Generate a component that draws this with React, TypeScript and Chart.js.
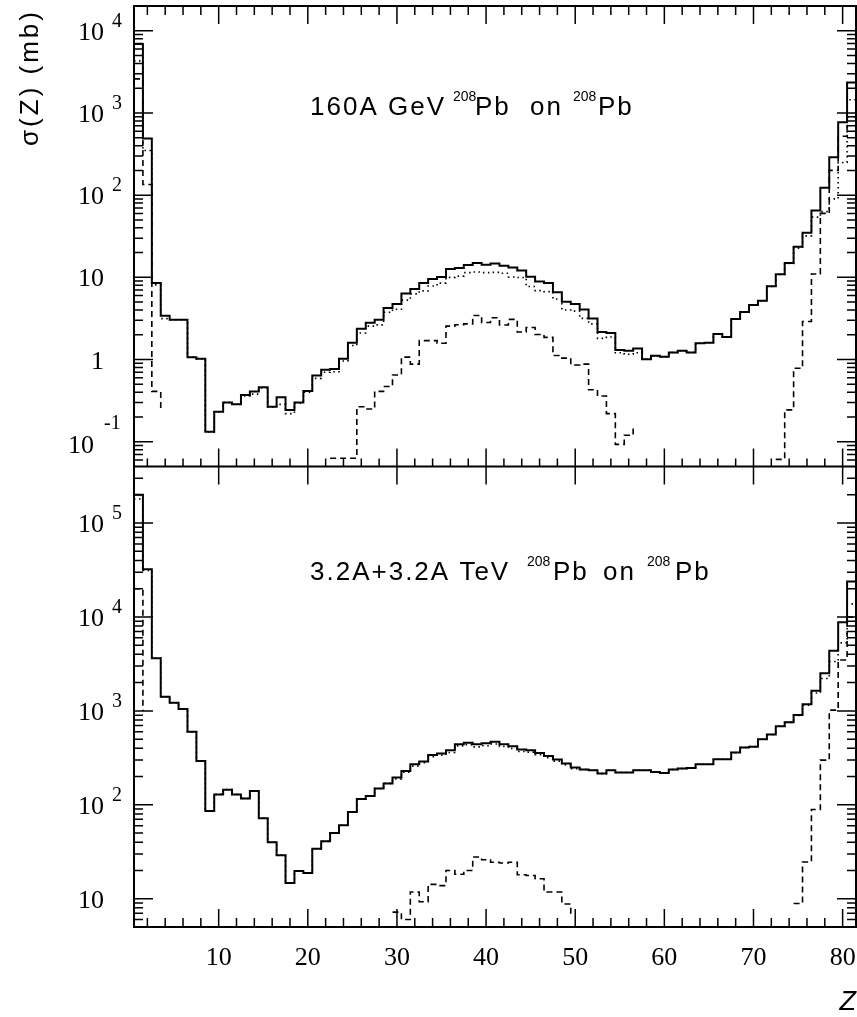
import React, { useEffect, useRef } from "react";
import { Chart, registerables } from "chart.js";

Chart.register(...registerables);

// ---------------- data ----------------
const Z_BINS = [
  1, 2, 3, 4, 5, 6, 7, 8, 9, 10, 11, 12, 13, 14, 15, 16, 17, 18, 19, 20,
  21, 22, 23, 24, 25, 26, 27, 28, 29, 30, 31, 32, 33, 34, 35, 36, 37, 38, 39, 40,
  41, 42, 43, 44, 45, 46, 47, 48, 49, 50, 51, 52, 53, 54, 55, 56, 57, 58, 59, 60,
  61, 62, 63, 64, 65, 66, 67, 68, 69, 70, 71, 72, 73, 74, 75, 76, 77, 78, 79, 80, 81,
];

// 160A GeV Pb on Pb  (0 = below the plotted range)
const TOP_TOTAL = [
  6900, 490, 8.55, 3.4, 3.05, 3.05, 1.07, 1.02, 0.132, 0.232,
  0.30, 0.286, 0.37, 0.41, 0.46, 0.267, 0.347, 0.244, 0.30, 0.415,
  0.64, 0.75, 0.77, 1.02, 1.6, 2.37, 2.8, 3.05, 4.23, 4.74,
  6.35, 7.2, 8.55, 9.55, 10.1, 12.6, 13.0, 14.1, 15.0, 14.2,
  14.7, 13.8, 13.2, 12.1, 10.2, 8.9, 8.55, 6.6, 5.05, 4.74,
  4.05, 3.15, 2.17, 2.1, 1.31, 1.28, 1.36, 1.01, 1.11, 1.08,
  1.22, 1.28, 1.22, 1.58, 1.6, 2.04, 1.88, 3.11, 3.78, 4.6,
  5.2, 7.77, 10.9, 15.0, 23.5, 35, 65, 123, 290, 770, 2350,
];
const TOP_EMD = [
  4300, 350, 8.1, 3.15, 3.05, 3.05, 1.07, 1.02, 0.132, 0.232,
  0.30, 0.286, 0.36, 0.38, 0.45, 0.265, 0.285, 0.22, 0.295, 0.40,
  0.59, 0.70, 0.71, 0.96, 1.48, 2.1, 2.55, 2.64, 3.76, 4.09,
  5.28, 6.3, 6.85, 7.85, 8.5, 10.0, 10.35, 11.4, 11.6, 11.4,
  11.5, 11.2, 10.1, 9.95, 7.75, 6.9, 6.7, 5.45, 4.0, 3.88,
  3.17, 2.72, 1.81, 1.88, 1.21, 1.16, 1.21, 1.01, 1.11, 1.08,
  1.22, 1.28, 1.22, 1.58, 1.6, 2.04, 1.88, 3.11, 3.78, 4.6,
  5.2, 7.77, 10.84, 14.76, 22.7, 32, 54, 63, 90, 250, 1450,
];
const TOP_NUC = [
  2600, 135, 0.41, 0.25, 0, 0, 0, 0, 0, 0,
  0, 0, 0, 0, 0, 0, 0.06, 0, 0, 0,
  0, 0, 0.063, 0.063, 0.063, 0.267, 0.25, 0.41, 0.47, 0.65,
  1.07, 0.88, 1.7, 1.7, 1.58, 2.55, 2.65, 2.72, 3.44, 2.82,
  3.22, 2.63, 3.08, 2.16, 2.45, 2.02, 1.86, 1.12, 1.04, 0.86,
  0.88, 0.43, 0.36, 0.22, 0.093, 0.12, 0.152, 0, 0, 0,
  0, 0, 0, 0, 0, 0, 0, 0, 0, 0,
  0, 0, 0.061, 0.244, 0.785, 2.9, 11, 60, 200, 520, 900,
];

// 3.2A+3.2A TeV Pb on Pb
const BOT_TOTAL = [
  200000, 32300, 3630, 1410, 1220, 1045, 598, 292, 86, 129,
  145, 129, 117, 140, 72, 40, 29, 14.7, 19.7, 18.8,
  34, 40.8, 50, 60.5, 84, 115, 124, 149, 169, 195,
  229, 270, 290, 340, 352, 380, 442, 457, 442, 452,
  468, 442, 421, 388, 382, 357, 330, 304, 275, 250,
  238, 233, 215, 233, 221, 221, 233, 233, 224, 218,
  238, 243, 247, 270, 270, 306, 306, 360, 408, 416,
  500, 560, 685, 755, 902, 1175, 1640, 2510, 4380, 8790, 23800,
];
const BOT_EMD = [
  180000, 31300, 3630, 1410, 1220, 1045, 598, 292, 86, 129,
  145, 129, 117, 140, 72, 40, 29, 14.7, 19.7, 18.8,
  34, 40.8, 50, 60.5, 84, 115, 124, 149, 169, 188,
  223, 258, 281, 326, 338, 360, 424, 437, 414, 426,
  444, 418, 397, 370, 364, 341, 318, 292, 266, 243,
  238, 233, 215, 233, 221, 221, 233, 233, 224, 218,
  238, 243, 247, 270, 270, 306, 306, 360, 408, 416,
  500, 560, 685, 755, 893, 1150, 1550, 2210, 3360, 5300, 13800,
];
const BOT_NUC = [
  20000, 1000, 0, 0, 0, 0, 0, 0, 0, 0,
  0, 0, 0, 0, 0, 0, 0, 0, 0, 0,
  0, 0, 0, 0, 0, 0, 0, 0, 0, 7.2,
  6.0, 11.8, 9.3, 14.2, 13.8, 20, 18.2, 20, 27.8, 26,
  24.5, 24, 24.5, 18, 17.7, 16.3, 11.8, 11.8, 8.8, 6.6,
  0, 0, 0, 0, 0, 0, 0, 0, 0, 0,
  0, 0, 0, 0, 0, 0, 0, 0, 0, 0,
  0, 0, 0, 0, 8.9, 24.6, 89, 299, 1020, 3480, 10000,
];

const X_TICK_LABELS = [10, 20, 30, 40, 50, 60, 70, 80];
const TOP_DECADES = [-1, 0, 1, 2, 3, 4];
const BOT_DECADES = [1, 2, 3, 4, 5];
const TOP_RANGE = [0.05, 20000];
const BOT_RANGE = [5, 400000];

const TOP_TITLE = [
  { t: "160A GeV", x: 310, sup: false },
  { t: "208", x: 453, sup: true },
  { t: "Pb", x: 475, sup: false },
  { t: "on", x: 530, sup: false },
  { t: "208", x: 573, sup: true },
  { t: "Pb", x: 598, sup: false },
];
const BOT_TITLE = [
  { t: "3.2A+3.2A TeV", x: 310, sup: false },
  { t: "208", x: 527, sup: true },
  { t: "Pb", x: 553, sup: false },
  { t: "on", x: 603, sup: false },
  { t: "208", x: 647, sup: true },
  { t: "Pb", x: 675, sup: false },
];

const SERIF = "'Liberation Serif', 'Times New Roman', serif";
const SANS = "'Liberation Sans', Arial, sans-serif";

function stepPoints(vals: number[]) {
  const pts = vals.map((v, i) => ({ x: Z_BINS[i] - 0.5, y: v }));
  pts.push({ x: Z_BINS[Z_BINS.length - 1] + 0.5, y: vals[vals.length - 1] });
  return pts;
}

function ds(vals: number[], axis: string, style: "solid" | "dot" | "dash", order: number) {
  return {
    data: stepPoints(vals),
    yAxisID: axis,
    xAxisID: "x",
    borderColor: "#000",
    borderWidth: style === "solid" ? 2 : 1.6,
    borderDash: style === "dot" ? [1.5, 3.5] : style === "dash" ? [6, 4] : [],
    pointRadius: 0,
    stepped: true,
    fill: false,
    tension: 0,
    order,
  };
}

function drawTitle(ctx: CanvasRenderingContext2D, pieces: any[], baseline: number) {
  for (const p of pieces) {
    ctx.font = p.sup ? `14px ${SANS}` : `26px ${SANS}`;
    (ctx as any).letterSpacing = p.sup ? "0px" : "2px";
    ctx.textAlign = "left";
    ctx.textBaseline = "alphabetic";
    ctx.fillText(p.t, p.x, p.sup ? baseline - 14 : baseline);
  }
  (ctx as any).letterSpacing = "0px";
}

function drawDecadeLabel(ctx: CanvasRenderingContext2D, exp: number, y: number) {
  ctx.textBaseline = "alphabetic";
  if (exp === 0 || exp === 1) {
    ctx.font = `26px ${SERIF}`;
    ctx.textAlign = "right";
    ctx.fillText(exp === 0 ? "1" : "10", 104, y + 9);
  } else if (exp > 1) {
    ctx.font = `26px ${SERIF}`;
    ctx.textAlign = "right";
    ctx.fillText("10", 104, y + 9);
    ctx.font = `20px ${SERIF}`;
    ctx.textAlign = "left";
    ctx.fillText(String(exp), 112, y - 4);
  } else {
    ctx.font = `26px ${SERIF}`;
    ctx.textAlign = "right";
    ctx.fillText("10", 94, y + 11);
    ctx.font = `20px ${SERIF}`;
    ctx.textAlign = "left";
    ctx.fillText(String(exp), 104, y - 13);
  }
}

const framePlugin = {
  id: "framePlugin",
  afterDraw(chart: any) {
    const ctx: CanvasRenderingContext2D = chart.ctx;
    const { left, right, top, bottom } = chart.chartArea;
    const xs = chart.scales.x;
    const yT = chart.scales.yTop;
    const yB = chart.scales.yBot;
    const mid = yT.bottom;
    ctx.save();
    ctx.strokeStyle = "#000";
    ctx.fillStyle = "#000";

    // frame
    ctx.lineWidth = 2;
    ctx.beginPath();
    ctx.rect(left, top, right - left, bottom - top);
    ctx.moveTo(left, mid);
    ctx.lineTo(right, mid);
    ctx.stroke();

    // x ticks
    ctx.lineWidth = 1.5;
    ctx.beginPath();
    for (let v = 2; v <= 80; v += 2) {
      const px = xs.getPixelForValue(v);
      const major = v % 10 === 0;
      const L = major ? 18 : 9;
      ctx.moveTo(px, top);
      ctx.lineTo(px, top + L);
      ctx.moveTo(px, mid);
      ctx.lineTo(px, mid - (major ? 18 : 8));
      if (major) {
        ctx.moveTo(px, mid);
        ctx.lineTo(px, mid + 18);
      }
      ctx.moveTo(px, bottom);
      ctx.lineTo(px, bottom - L);
    }
    // y ticks
    const yScales = [yT, yB];
    for (const s of yScales) {
      const dmin = Math.floor(Math.log10(s.min));
      const dmax = Math.ceil(Math.log10(s.max));
      for (let d = dmin; d <= dmax; d++) {
        for (let m = 1; m <= 9; m++) {
          const v = m * Math.pow(10, d);
          if (v < s.min || v > s.max) continue;
          const py = s.getPixelForValue(v);
          if (py > s.bottom - 1 || py < s.top + 1) continue;
          const L = m === 1 ? 19 : 9;
          ctx.moveTo(left, py);
          ctx.lineTo(left + L, py);
          ctx.moveTo(right, py);
          ctx.lineTo(right - L, py);
        }
      }
    }
    ctx.stroke();

    // y labels
    for (const e of TOP_DECADES) drawDecadeLabel(ctx, e, yT.getPixelForValue(Math.pow(10, e)));
    for (const e of BOT_DECADES) drawDecadeLabel(ctx, e, yB.getPixelForValue(Math.pow(10, e)));

    // x labels
    ctx.font = `26px ${SERIF}`;
    ctx.textAlign = "center";
    ctx.textBaseline = "alphabetic";
    for (const v of X_TICK_LABELS) ctx.fillText(String(v), xs.getPixelForValue(v), 965);

    // axis titles
    ctx.font = `italic 27px ${SANS}`;
    ctx.textAlign = "right";
    ctx.fillText("Z", 856, 1010);

    ctx.save();
    ctx.translate(31, 77.5);
    ctx.rotate(-Math.PI / 2);
    ctx.font = `26px ${SANS}`;
    (ctx as any).letterSpacing = "3px";
    ctx.textAlign = "center";
    ctx.textBaseline = "middle";
    ctx.fillText("σ(Z) (mb)", 0, 0);
    ctx.restore();

    // panel titles
    drawTitle(ctx, TOP_TITLE, 115);
    drawTitle(ctx, BOT_TITLE, 580);
    ctx.restore();
  },
};

const hiddenY = {
  type: "logarithmic" as const,
  position: "left" as const,
  stack: "panels",
  stackWeight: 1,
  display: true,
  ticks: { display: false },
  grid: { display: false, drawTicks: false },
  border: { display: false },
};

export default function App() {
  const ref = useRef<HTMLCanvasElement | null>(null);
  useEffect(() => {
    if (!ref.current) return;
    const chart = new Chart(ref.current, {
      type: "line",
      data: {
        datasets: [
          ds(TOP_TOTAL, "yTop", "solid", 0),
          ds(TOP_EMD, "yTop", "dot", 1),
          ds(TOP_NUC, "yTop", "dash", 2),
          ds(BOT_TOTAL, "yBot", "solid", 0),
          ds(BOT_EMD, "yBot", "dot", 1),
          ds(BOT_NUC, "yBot", "dash", 2),
        ] as any,
      },
      options: {
        responsive: false,
        animation: false,
        devicePixelRatio: 1,
        layout: { padding: { left: 134, right: 1, top: 6, bottom: 90 } },
        plugins: { legend: { display: false }, tooltip: { enabled: false } },
        scales: {
          x: { type: "linear", min: 0.5, max: 81.5, display: false },
          yTop: { ...hiddenY, weight: 2, min: TOP_RANGE[0], max: TOP_RANGE[1] },
          yBot: { ...hiddenY, weight: 1, min: BOT_RANGE[0], max: BOT_RANGE[1] },
        } as any,
      },
      plugins: [framePlugin],
    });
    return () => chart.destroy();
  }, []);
  return (
    <div style={{ position: "absolute", left: 0, top: 0, width: 857, height: 1017, background: "#fff" }}>
      <canvas ref={ref} width={857} height={1017} style={{ display: "block", width: 857, height: 1017 }} />
    </div>
  );
}
